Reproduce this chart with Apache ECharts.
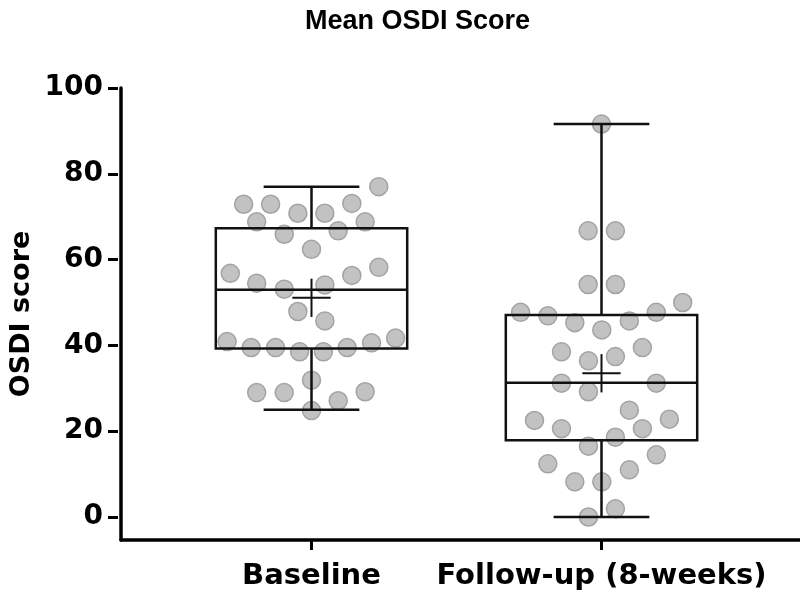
<!DOCTYPE html>
<html>
<head>
<meta charset="utf-8">
<script src="https://cdn.jsdelivr.net/npm/echarts@6/dist/echarts.min.js"></script>
<style>html,body{margin:0;padding:0;background:#fff}#c{width:800px;height:596px}</style>
</head>
<body>
<div id="c"></div>
<script>
// ---- data ----
const titleText = 'Mean OSDI Score';
const yAxisName = 'OSDI score';
const categories = ['Baseline', 'Follow-up (8-weeks)'];
const yTicks = [0, 20, 40, 60, 80, 100];
// [whisker low, Q1, median, Q3, whisker high]
const baselineBox = [25.0, 39.3, 53.0, 67.3, 77.0];
const followBox = [0.0, 17.9, 31.3, 47.1, 91.6];
const baselineMean = 51.1;
const followMean = 33.5;
// individual points: values and horizontal jitter (fraction of the category spacing)
const baselineVals = [77.0, 72.9, 72.9, 73.1, 70.8, 70.8, 68.8, 68.8, 66.7, 65.9, 62.4, 56.8, 58.2, 56.3, 54.5, 54.1, 53.1, 47.9, 45.7, 40.9, 39.5, 39.5, 38.5, 38.5, 39.5, 40.6, 41.7, 31.9, 29.0, 29.0, 29.2, 27.1, 24.8];
const baselineJitter = [0.232, -0.234, -0.141, 0.139, -0.047, 0.046, -0.189, 0.185, 0.092, -0.094, 0, -0.280, 0.232, 0.139, -0.189, 0.046, -0.094, -0.047, 0.046, -0.291, -0.208, -0.124, -0.041, 0.041, 0.123, 0.207, 0.290, 0, -0.189, -0.094, 0.185, 0.092, 0];
const followVals = [91.6, 66.7, 66.7, 54.2, 54.2, 50.0, 47.7, 46.9, 45.3, 43.6, 45.7, 47.7, 38.5, 39.5, 37.4, 36.4, 31.2, 31.2, 29.2, 24.9, 22.5, 20.6, 20.6, 22.8, 18.6, 16.5, 14.5, 12.4, 11.0, 8.2, 8.2, 1.9, 0.0];
const followJitter = [0, -0.046, 0.048, -0.046, 0.048, 0.280, -0.279, -0.185, -0.092, 0.001, 0.096, 0.189, -0.138, 0.141, 0.048, -0.045, -0.138, 0.189, -0.045, 0.096, -0.231, -0.138, 0.141, 0.234, 0.048, -0.045, 0.189, -0.185, 0.096, -0.092, 0.001, 0.048, -0.045];

// ---- build ----
const FONT_A = '"Liberation Sans", Arial, Helvetica, sans-serif';
const FONT_D = '"DejaVu Sans", "Liberation Sans", sans-serif';
const boxData = [
  [1].concat(baselineBox, [baselineMean]),
  [2].concat(followBox, [followMean])
];
const pointData = [];
baselineVals.forEach((v, i) => pointData.push([1 + baselineJitter[i], v]));
followVals.forEach((v, i) => pointData.push([2 + followJitter[i], v]));

function renderBox(params, api) {
  const c = api.value(0);
  const unit = api.size([1, 0])[0];
  const lo = api.coord([c, api.value(1)]);
  const q1 = api.coord([c, api.value(2)]);
  const med = api.coord([c, api.value(3)]);
  const q3 = api.coord([c, api.value(4)]);
  const hi = api.coord([c, api.value(5)]);
  const mean = api.coord([c, api.value(6)]);
  const x = lo[0];
  const hb = unit * 0.33, hc = unit * 0.165, hp = unit * 0.066;
  const ln = (x1, y1, x2, y2, w) => ({type: 'line', shape: {x1, y1, x2, y2}, style: {stroke: '#111', lineWidth: w || 2.5}});
  return {
    type: 'group',
    children: [
      ln(x, hi[1], x, q3[1]),
      ln(x, q1[1], x, lo[1]),
      ln(x - hc, hi[1], x + hc, hi[1]),
      ln(x - hc, lo[1], x + hc, lo[1]),
      {type: 'rect', shape: {x: x - hb, y: q3[1], width: hb * 2, height: q1[1] - q3[1]}, style: {stroke: '#111', lineWidth: 2.5, fill: null}},
      ln(x - hb, med[1], x + hb, med[1]),
      ln(x - hp, mean[1], x + hp, mean[1], 2),
      ln(x, mean[1] - hp, x, mean[1] + hp, 2)
    ]
  };
}

const XMIN = 1 - 193.5 / 290;
const XMAX = XMIN + 682 / 290;

const chart = echarts.init(document.getElementById('c'), null, {renderer: 'canvas'});
chart.setOption({
  animation: false,
  backgroundColor: '#fff',
  title: {
    text: titleText, left: 300, top: 3,
    textStyle: {fontFamily: FONT_A, fontWeight: 'bold', fontSize: 27, color: '#000'}
  },
  grid: [
    {left: 118, right: 0, top: 88, bottom: 56},
    {left: 118, right: 0, top: 88, bottom: 79},
    {left: 166.5, right: 53.5, top: 88, bottom: 56}
  ],
  xAxis: [
    {gridIndex: 0, type: 'value', min: 0, max: 1,
     axisLine: {show: true, lineStyle: {color: '#000', width: 3.5}},
     axisTick: {show: false}, axisLabel: {show: false}, splitLine: {show: false}},
    {gridIndex: 1, type: 'value', min: XMIN, max: XMAX, show: false},
    {gridIndex: 2, type: 'category', data: categories,
     axisLine: {show: false},
     axisTick: {show: true, alignWithLabel: true, length: 10, lineStyle: {color: '#000', width: 3}},
     axisLabel: {interval: 0, fontFamily: FONT_D, fontWeight: 'bold', fontSize: 29, color: '#000', margin: 22}}
  ],
  yAxis: [
    {gridIndex: 0, type: 'value', min: 0, max: 1,
     name: yAxisName, nameLocation: 'middle', nameGap: 86, nameRotate: 90,
     nameTextStyle: {fontFamily: FONT_D, fontWeight: 'bold', fontSize: 27, color: '#000'},
     axisLine: {show: true, lineStyle: {color: '#000', width: 3.5}},
     axisTick: {show: false}, axisLabel: {show: false}, splitLine: {show: false}},
    {gridIndex: 1, type: 'value', min: yTicks[0], max: yTicks[yTicks.length - 1], interval: 20,
     axisLine: {show: false},
     axisTick: {show: true, length: 10, lineStyle: {color: '#000', width: 3}},
     axisLabel: {fontFamily: FONT_D, fontWeight: 'bold', fontSize: 28, color: '#000', margin: 15},
     splitLine: {show: false}},
    {gridIndex: 2, type: 'value', min: 0, max: 1, show: false}
  ],
  series: [
    {type: 'scatter', xAxisIndex: 1, yAxisIndex: 1, data: pointData, symbolSize: 18, z: 2,
     itemStyle: {color: '#c2c2c2', borderColor: '#a3a3a3', borderWidth: 1.5, opacity: 1}},
    {type: 'custom', xAxisIndex: 1, yAxisIndex: 1, data: boxData, renderItem: renderBox, z: 3}
  ]
});
</script>
</body>
</html>
